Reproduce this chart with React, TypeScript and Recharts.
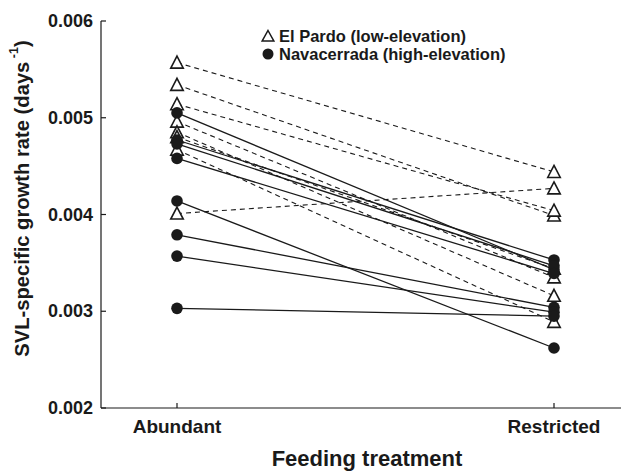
import { LineChart, Line, XAxis, YAxis } from 'recharts';

const categories = ['Abundant', 'Restricted'];
const yTicks = [0.002, 0.003, 0.004, 0.005, 0.006];

// El Pardo (low-elevation), one pair of values per individual
const pardoAbundant = [0.00557, 0.00534, 0.00514, 0.00496, 0.00485, 0.0048, 0.00467, 0.00401];
const pardoRestricted = [0.00444, 0.00399, 0.00404, 0.00335, 0.00316, 0.00344, 0.00289, 0.00427];

// Navacerrada (high-elevation)
const navaAbundant = [0.00505, 0.00477, 0.00473, 0.00458, 0.00414, 0.00379, 0.00357, 0.00303];
const navaRestricted = [0.00343, 0.00353, 0.00347, 0.00339, 0.00262, 0.00304, 0.00299, 0.00295];

const FONT = '"Liberation Sans", Arial, Helvetica, sans-serif';
const INK = '#1a1a1a';

const data = categories.map((name, i) => {
  const row: Record<string, string | number> = { name };
  pardoAbundant.forEach((v, k) => {
    row['p' + k] = i === 0 ? v : pardoRestricted[k];
  });
  navaAbundant.forEach((v, k) => {
    row['n' + k] = i === 0 ? v : navaRestricted[k];
  });
  return row;
});

const TriangleDot = (props: any) => {
  const { cx, cy } = props;
  if (cx == null || cy == null) return null;
  const h = 11;
  const w = 12.5;
  return (
    <path
      d={`M${cx},${cy - h / 2 - 1} L${cx + w / 2},${cy + h / 2} L${cx - w / 2},${cy + h / 2} Z`}
      fill="#fff"
      stroke={INK}
      strokeWidth={1.6}
    />
  );
};

const CircleDot = (props: any) => {
  const { cx, cy } = props;
  if (cx == null || cy == null) return null;
  return <circle cx={cx} cy={cy} r={5.8} fill={INK} />;
};

const YTick = (props: any) => {
  const { x, y, payload } = props;
  return (
    <g>
      <line x1={x} x2={x + 5} y1={y} y2={y} stroke={INK} strokeWidth={1.2} />
      <text x={x - 8} y={y + 6} textAnchor="end" fontFamily={FONT} fontWeight="bold" fontSize={18} fill={INK}>
        {Number(payload.value).toFixed(3)}
      </text>
    </g>
  );
};

const XTick = (props: any) => {
  const { x, y, payload } = props;
  return (
    <g>
      <line x1={x} x2={x} y1={y} y2={y - 5} stroke={INK} strokeWidth={1.2} />
      <text x={x} y={y + 25} textAnchor="middle" fontFamily={FONT} fontWeight="bold" fontSize={19} fill={INK}>
        {payload.value}
      </text>
    </g>
  );
};

const YLabel = (props: any) => {
  const { viewBox } = props;
  const cx = viewBox.x + 22;
  const cy = viewBox.y + viewBox.height / 2 - 16;
  return (
    <text
      x={cx}
      y={cy}
      transform={`rotate(-90, ${cx}, ${cy})`}
      textAnchor="middle"
      dominantBaseline="central"
      fontFamily={FONT}
      fontWeight="bold"
      fontSize={20.2}
      fill={INK}
    >
      SVL-specific growth rate (days
      <tspan fontSize={12.5} dy={-8}> -1</tspan>
      <tspan dy={8}>)</tspan>
    </text>
  );
};

const XLabel = (props: any) => {
  const { viewBox } = props;
  const cx = viewBox.x + viewBox.width / 2 + 6;
  return (
    <text x={cx} y={viewBox.y + 58} textAnchor="middle" fontFamily={FONT} fontWeight="bold" fontSize={22} fill={INK}>
      Feeding treatment
    </text>
  );
};

const LegendBox = () => (
  <div
    style={{
      position: 'absolute',
      left: 261,
      top: 27,
      fontFamily: FONT,
      fontWeight: 'bold',
      fontSize: 16.5,
      color: INK,
      lineHeight: '19px',
    }}
  >
    <div style={{ display: 'flex', alignItems: 'center', height: 18 }}>
      <svg width={14} height={14} style={{ marginRight: 4 }}>
        <path d="M7,1.5 L12.8,12 L1.2,12 Z" fill="#fff" stroke={INK} strokeWidth={1.5} />
      </svg>
      El Pardo (low-elevation)
    </div>
    <div style={{ display: 'flex', alignItems: 'center', height: 18 }}>
      <svg width={14} height={14} style={{ marginRight: 4 }}>
        <circle cx={7} cy={7} r={5.5} fill={INK} />
      </svg>
      Navacerrada (high-elevation)
    </div>
  </div>
);

export default function App() {
  return (
    <div style={{ position: 'absolute', left: 0, top: 0, width: 625, height: 471, background: '#fff' }}>
      <LineChart width={625} height={471} data={data} margin={{ top: 21, right: 4, bottom: 0, left: 0 }}>
        <XAxis
          dataKey="name"
          type="category"
          height={63}
          padding={{ left: 76, right: 67 }}
          stroke={INK}
          strokeWidth={1.2}
          tickLine={false}
          tickSize={0}
          tickMargin={0}
          tick={<XTick />}
          interval={0}
          label={<XLabel />}
        />
        <YAxis
          width={101}
          domain={[0.002, 0.006]}
          ticks={yTicks}
          type="number"
          stroke={INK}
          strokeWidth={1.2}
          tickLine={false}
          tickSize={0}
          tickMargin={0}
          tick={<YTick />}
          interval={0}
          label={<YLabel />}
        />
        {pardoAbundant.map((_, k) => (
          <Line
            key={'p' + k}
            dataKey={'p' + k}
            stroke={INK}
            strokeWidth={1.1}
            strokeDasharray="5 4"
            dot={<TriangleDot />}
            activeDot={false}
            isAnimationActive={false}
            legendType="none"
          />
        ))}
        {navaAbundant.map((_, k) => (
          <Line
            key={'n' + k}
            dataKey={'n' + k}
            stroke={INK}
            strokeWidth={1.3}
            dot={<CircleDot />}
            activeDot={false}
            isAnimationActive={false}
            legendType="none"
          />
        ))}
      </LineChart>
      <LegendBox />
    </div>
  );
}
